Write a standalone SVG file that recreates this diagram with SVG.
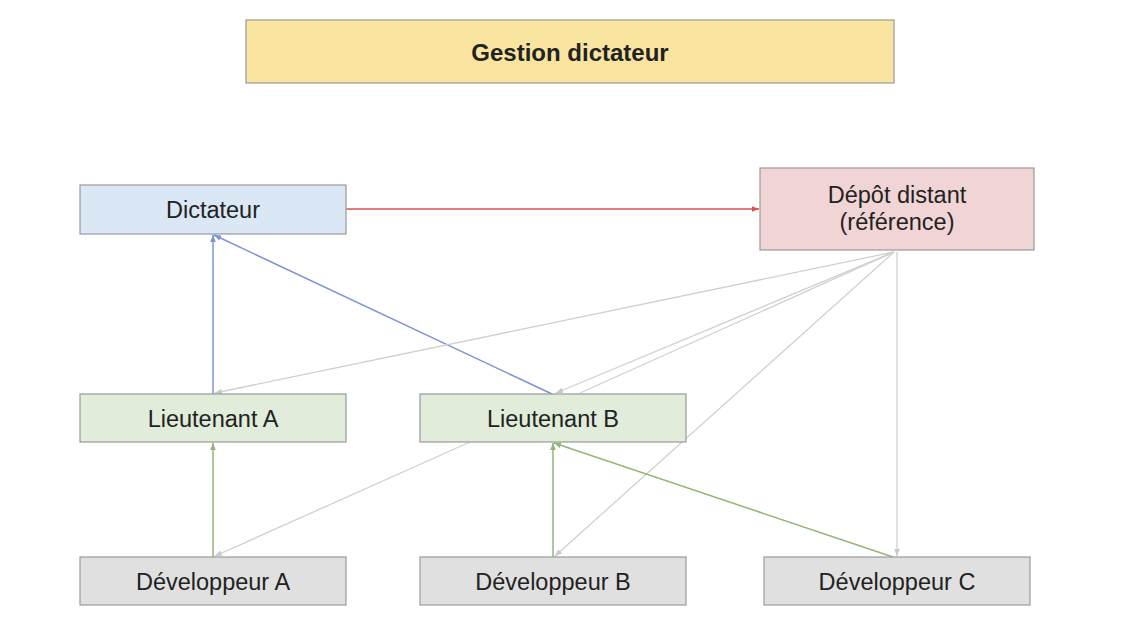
<svg xmlns="http://www.w3.org/2000/svg" width="1145" height="618" viewBox="0 0 1145 618">
<defs>
<style>
.box{stroke:#9a9a9a;stroke-width:1.2}
.t{font-family:"Liberation Sans",Arial,sans-serif;font-size:23.5px;fill:#222;text-anchor:middle;dominant-baseline:central}
.title{font-weight:bold;font-size:24px}
.red{stroke:#d9534f;stroke-width:1.3;fill:none}
.blue{stroke:#7c93d4;stroke-width:1.5;fill:none}
.gray{stroke:#d0d0d0;stroke-width:1.3;fill:none}
.green{stroke:#93b57a;stroke-width:1.5;fill:none}
</style>
<marker id="aRed" viewBox="0 0 10 10" refX="10" refY="5" markerWidth="7" markerHeight="7" orient="auto" markerUnits="userSpaceOnUse"><path d="M0,1 L10,5 L0,9 z" fill="#d9534f"/></marker>
<marker id="aBlue" viewBox="0 0 10 10" refX="10" refY="5" markerWidth="7" markerHeight="7" orient="auto" markerUnits="userSpaceOnUse"><path d="M0,1 L10,5 L0,9 z" fill="#7c93d4"/></marker>
<marker id="aGray" viewBox="0 0 10 10" refX="10" refY="5" markerWidth="7" markerHeight="7" orient="auto" markerUnits="userSpaceOnUse"><path d="M0,1 L10,5 L0,9 z" fill="#c8c8c8"/></marker>
<marker id="aGreen" viewBox="0 0 10 10" refX="10" refY="5" markerWidth="7" markerHeight="7" orient="auto" markerUnits="userSpaceOnUse"><path d="M0,1 L10,5 L0,9 z" fill="#93b57a"/></marker>
</defs>
<rect width="1145" height="618" fill="#ffffff"/>

<g id="title">
<rect class="box" x="246" y="20" width="648" height="63" fill="#f9e59f"/>
<text class="t title" x="570" y="52">Gestion dictateur</text>
</g>

<g id="connectors">
<line class="red" x1="346" y1="209" x2="759" y2="209" marker-end="url(#aRed)"/>
<line class="blue" x1="213" y1="394" x2="213" y2="235" marker-end="url(#aBlue)"/>
<line class="blue" x1="552" y1="394" x2="214" y2="235" marker-end="url(#aBlue)"/>
<line class="gray" x1="894" y1="252" x2="215" y2="393" marker-end="url(#aGray)"/>
<line class="gray" x1="894" y1="252" x2="556" y2="393" marker-end="url(#aGray)"/>
<line class="gray" x1="894" y1="252" x2="580" y2="393"/>
<line class="gray" x1="894" y1="252" x2="555" y2="556" marker-end="url(#aGray)"/>
<line class="gray" x1="897" y1="252" x2="897" y2="556" marker-end="url(#aGray)"/>
<line class="gray" x1="470" y1="442" x2="215" y2="556" marker-end="url(#aGray)"/>
<line class="green" x1="213" y1="557" x2="213" y2="443" marker-end="url(#aGreen)"/>
<line class="green" x1="553" y1="557" x2="553" y2="443" marker-end="url(#aGreen)"/>
<line class="green" x1="893" y1="557" x2="554" y2="443" marker-end="url(#aGreen)"/>
</g>

<g id="dictateur">
<rect class="box" x="80" y="185" width="266" height="49" fill="#dae7f5"/>
<text class="t" x="213" y="210">Dictateur</text>
</g>
<g id="depot">
<rect class="box" x="760" y="168" width="274" height="82" fill="#f1d4d6"/>
<text class="t" x="897" y="195">Dépôt distant</text>
<text class="t" x="897" y="222">(référence)</text>
</g>
<g id="lieutenantA">
<rect class="box" x="80" y="394" width="266" height="48" fill="#e1ecda"/>
<text class="t" x="213" y="419">Lieutenant A</text>
</g>
<g id="lieutenantB">
<rect class="box" x="420" y="394" width="266" height="48" fill="#e1ecda"/>
<text class="t" x="553" y="419">Lieutenant B</text>
</g>
<g id="devA">
<rect class="box" x="80" y="557" width="266" height="48" fill="#e0e0e0"/>
<text class="t" x="213" y="582">Développeur A</text>
</g>
<g id="devB">
<rect class="box" x="420" y="557" width="266" height="48" fill="#e0e0e0"/>
<text class="t" x="553" y="582">Développeur B</text>
</g>
<g id="devC">
<rect class="box" x="764" y="557" width="266" height="48" fill="#e0e0e0"/>
<text class="t" x="897" y="582">Développeur C</text>
</g>
</svg>
